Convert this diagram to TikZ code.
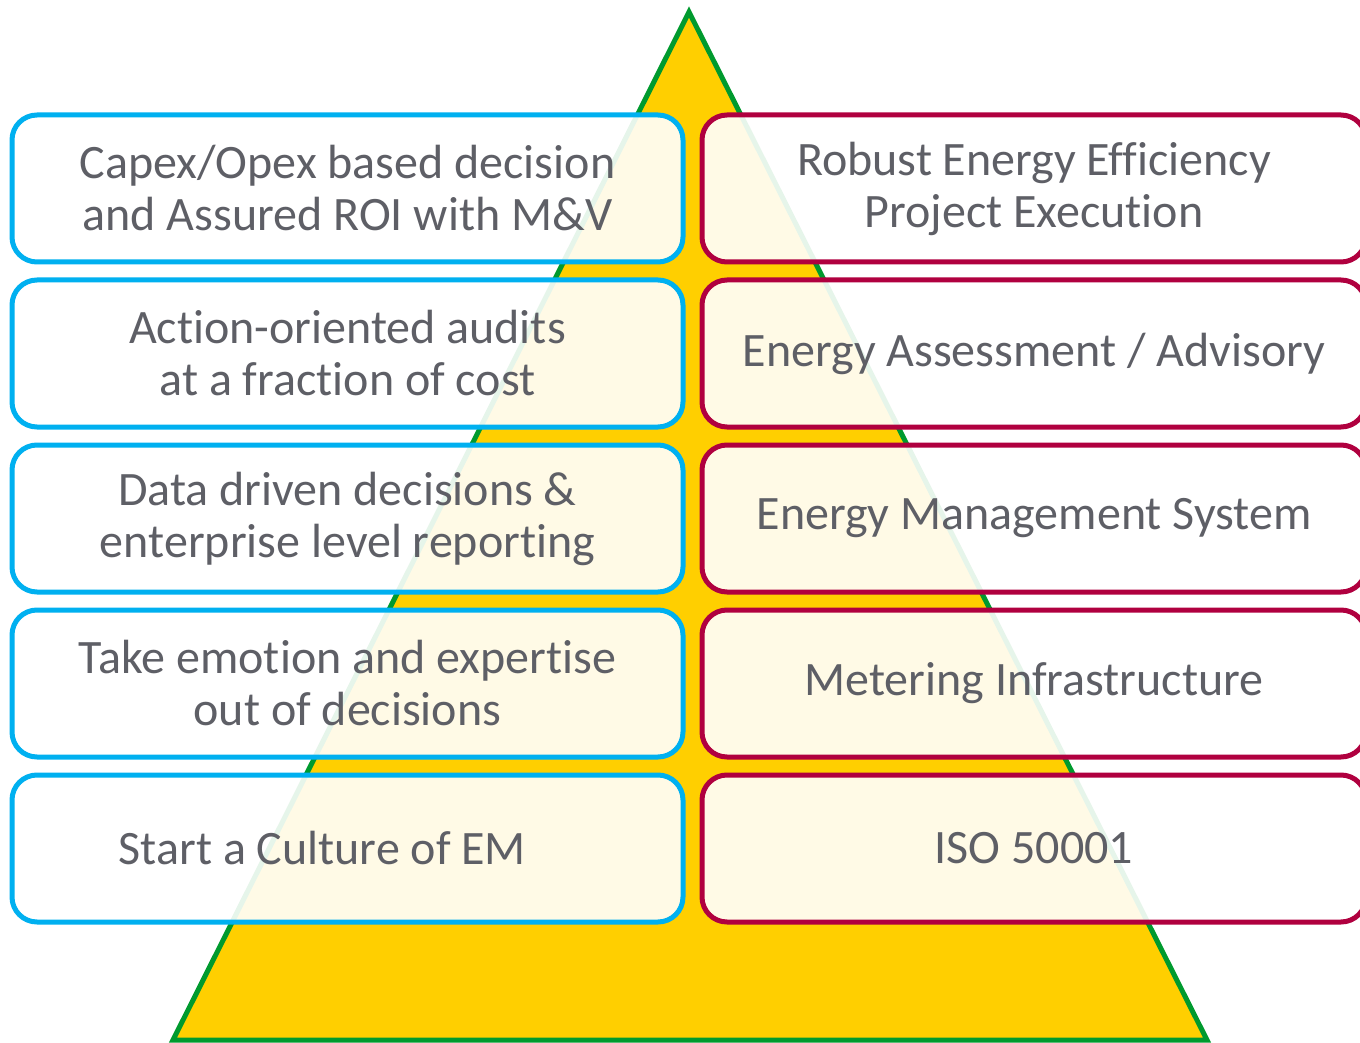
\documentclass[tikz,border=0pt]{standalone}
\usepackage{fontspec}
\setmainfont{Carlito}[Ligatures={NoCommon}]
\usetikzlibrary{positioning}
\definecolor{pyryellow}{HTML}{FFCF00}
\definecolor{pyrgreen}{HTML}{009A2E}
\definecolor{benefitblue}{HTML}{00B0F0}
\definecolor{offerred}{HTML}{B0003F}
\definecolor{textgray}{HTML}{5E5F66}

\begin{document}
\begin{tikzpicture}[x=0.5pt,y=-0.5pt,
			box/.style={rounded corners=12.5pt,line width=2.5pt,fill=white,fill opacity=0.9,
				text opacity=1,text=textgray,minimum height=73.5pt,align=center,
				font=\fontsize{24}{26}\selectfont},
			leftbox/.style={box,draw=benefitblue,minimum width=335.5pt},
			rightbox/.style={box,draw=offerred,minimum width=332pt}]
			\clip (0,0) rectangle (1360,1043);
			
			% the pyramid behind the boxes
			\coordinate (top) at (689,12);
			\draw[line width=2.5pt,draw=pyrgreen,fill=pyryellow] (top) -- (1207,1040) -- (173,1040) -- cycle;
			
			% left column: what the customer gets
			\node[leftbox] (l1) at (347.5,188.5) {Capex/Opex based decision\\and Assured ROI with M\&V};
			\node[leftbox] (l2) [below=6.5pt of l1] {Action-oriented audits\\at a fraction of cost};
			\node[leftbox] (l3) [below=6.5pt of l2] {Data driven decisions \&\\enterprise level reporting};
			\node[leftbox] (l4) [below=6.5pt of l3] {Take emotion and expertise\\out of decisions};
			\node[leftbox] (l5) [below=6.5pt of l4] {Start a Culture of EM\hspace*{25pt}};
			
			% right column: what is offered
			\node[rightbox] (r1) [right=7pt of l1] {Robust Energy Efficiency\\Project Execution};
			\node[rightbox] (r2) [right=7pt of l2] {Energy Assessment / Advisory};
			\node[rightbox] (r3) [right=7pt of l3] {Energy Management System};
			\node[rightbox] (r4) [right=7pt of l4] {Metering Infrastructure};
			\node[rightbox] (r5) [right=7pt of l5] {ISO 50001};
\end{tikzpicture}
\end{document}
